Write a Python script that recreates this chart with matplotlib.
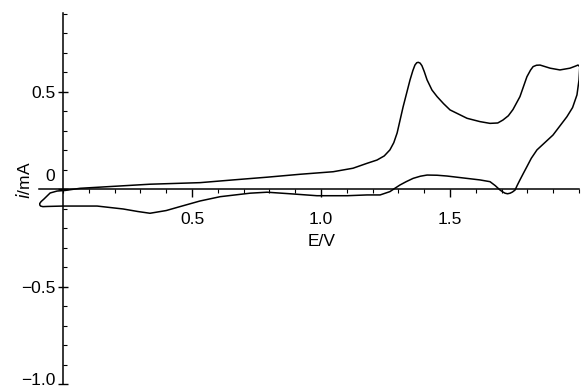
import matplotlib
matplotlib.use("Agg")
import matplotlib.pyplot as plt
import matplotlib.transforms as mtransforms
import numpy as np
from matplotlib.ticker import MultipleLocator

plt.rcParams['font.family'] = ['Liberation Sans', 'DejaVu Sans']

# Forward (anodic) sweep: potential (V) and current (mA)
fwd_E = [-0.092, -0.085, -0.074, -0.050, -0.023, 0.008, 0.066, 0.221, 0.337, 0.531,
         0.659, 0.791, 0.919, 1.047, 1.124, 1.178, 1.217, 1.245, 1.267, 1.282,
         1.295, 1.318, 1.345, 1.356, 1.364, 1.371, 1.377, 1.384, 1.391, 1.400,
         1.411, 1.430, 1.450, 1.475, 1.500, 1.566, 1.616, 1.655, 1.685, 1.705,
         1.726, 1.744, 1.771, 1.798, 1.812, 1.822, 1.835, 1.849, 1.888, 1.926,
         1.965, 1.985, 1.996, 2.003]
fwd_i = [-0.075, -0.062, -0.049, -0.018, -0.008, -0.005, 0.006, 0.018, 0.027, 0.035,
         0.049, 0.063, 0.078, 0.091, 0.109, 0.134, 0.151, 0.172, 0.203, 0.240,
         0.290, 0.423, 0.562, 0.610, 0.638, 0.650, 0.652, 0.648, 0.635, 0.605,
         0.562, 0.510, 0.476, 0.440, 0.408, 0.365, 0.348, 0.339, 0.341, 0.356,
         0.378, 0.410, 0.476, 0.578, 0.612, 0.630, 0.637, 0.638, 0.622, 0.613,
         0.622, 0.632, 0.638, 0.630]

# Reverse (cathodic) sweep
rev_E = [2.003, 2.000, 1.992, 1.975, 1.953, 1.899, 1.837, 1.815, 1.798, 1.784,
         1.771, 1.760, 1.752, 1.742, 1.733, 1.723, 1.713, 1.704, 1.694, 1.675,
         1.655, 1.616, 1.539, 1.488, 1.450, 1.411, 1.385, 1.357, 1.330, 1.306,
         1.285, 1.267, 1.229, 1.178, 1.101, 0.984, 0.891, 0.791, 0.725, 0.609,
         0.531, 0.453, 0.400, 0.337, 0.290, 0.233, 0.132, 0.000, -0.060, -0.078,
         -0.087, -0.092]
rev_i = [0.630, 0.562, 0.485, 0.420, 0.373, 0.279, 0.203, 0.160, 0.117, 0.082,
         0.049, 0.020, -0.003, -0.013, -0.019, -0.022, -0.019, -0.012, -0.003, 0.020,
         0.040, 0.049, 0.061, 0.069, 0.073, 0.074, 0.068, 0.057, 0.040, 0.023,
         0.005, -0.011, -0.028, -0.028, -0.032, -0.032, -0.023, -0.014, -0.019, -0.037,
         -0.059, -0.088, -0.108, -0.122, -0.113, -0.100, -0.085, -0.085, -0.087, -0.088,
         -0.085, -0.075]

xtick_vals = [0.5, 1.0, 1.5]
xtick_labels = ['0.5', '1.0', '1.5']
ytick_vals = [0.5, 0.0, -0.5, -1.0]
ytick_labels = ['0.5', '0', '\u22120.5', '\u22121.0']

fig = plt.figure(figsize=(5.81, 3.89), dpi=100)
ax = fig.add_axes([0.0663, 0.0116, 0.9303, 0.955])

E = fwd_E + rev_E
I = fwd_i + rev_i
ax.plot(E, I, color='black', lw=1.1, solid_joinstyle='round')

ax.set_xlim(-0.095, 2.0)
ax.set_ylim(-1.0, 0.905)

for s in ['top', 'right']:
    ax.spines[s].set_visible(False)
ax.spines['left'].set_position(('data', 0))
ax.spines['bottom'].set_position(('data', 0))
ax.spines['left'].set_linewidth(1.1)
ax.spines['bottom'].set_linewidth(1.1)

ax.set_xticks(xtick_vals)
ax.set_xticklabels(xtick_labels)
ax.xaxis.set_minor_locator(MultipleLocator(0.1))
ax.set_yticks(ytick_vals)
ax.set_yticklabels(ytick_labels)
ax.yaxis.set_minor_locator(MultipleLocator(0.1))

ax.tick_params(axis='x', which='major', direction='out', length=6, width=1.0,
               labelsize=12.5, pad=10)
ax.tick_params(axis='x', which='minor', direction='out', length=3, width=0.8)
ax.tick_params(axis='y', which='major', direction='inout', length=7, width=1.0,
               labelsize=12.5, pad=2)
ax.tick_params(axis='y', which='minor', direction='in', length=3, width=0.8)

# shift the "0" label up so it sits above the x-axis line; keep "−1.0" inside the figure
for lbl in ax.get_yticklabels():
    if lbl.get_text() == '0':
        lbl.set_transform(lbl.get_transform() +
                          mtransforms.ScaledTranslation(0, 14/100, fig.dpi_scale_trans))
    elif lbl.get_text() == '\u22121.0':
        lbl.set_transform(lbl.get_transform() +
                          mtransforms.ScaledTranslation(0, 5/100, fig.dpi_scale_trans))

fig.text(322/581, 1 - 241/389, 'E/V', ha='center', va='center', fontsize=12.5)
fig.text(24/581, 1 - 180/389, r'$\it{i}$/mA', ha='center', va='center',
         fontsize=12.5, rotation=90)

fig.savefig('out.png', dpi=100)
